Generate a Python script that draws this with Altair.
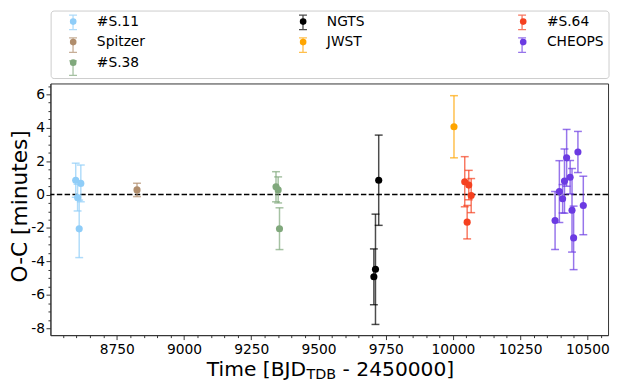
import altair as alt
import pandas as pd

FONT = "DejaVu Sans"

instruments = ["#S.11", "Spitzer", "#S.38", "NGTS", "JWST", "#S.64", "CHEOPS"]
inst_colors = ["#8fcdf8", "#b08d6c", "#80a87c", "#000000", "#ffa500", "#f5401f", "#6b3ae2"]

# order in which the 3-column legend places the entries
legend_order = ["#S.11", "Spitzer", "CHEOPS", "NGTS", "JWST", "#S.38", "#S.64"]

s11_t = [8597, 8604, 8610, 8616]
s11_oc = [0.86, -0.18, -2.05, 0.67]
s11_err = [1.02, 0.80, 1.72, 1.10]

spitzer_t = [8825]
spitzer_oc = [0.28]
spitzer_err = [0.40]

s38_t = [9342, 9350, 9355]
s38_oc = [0.47, 0.28, -2.04]
s38_err = [0.90, 0.78, 1.25]

ngts_t = [9706, 9712, 9724]
ngts_oc = [-4.92, -4.47, 0.86]
ngts_err = [1.67, 3.30, 2.70]

jwst_t = [10004]
jwst_oc = [4.06]
jwst_err = [1.86]

s64_t = [10044, 10053, 10059, 10068]
s64_oc = [0.77, -1.65, 0.57, -0.06]
s64_err = [1.50, 1.00, 0.88, 1.02]

cheops_t = [10380, 10396, 10408, 10415, 10423, 10436, 10443, 10449, 10465, 10485]
cheops_oc = [-1.55, 0.18, -0.25, 0.81, 2.20, 1.04, -0.94, -2.59, 2.55, -0.65]
cheops_err = [1.74, 1.85, 0.85, 1.92, 1.70, 1.00, 2.50, 1.90, 1.23, 1.75]

groups = [
    ("#S.11", s11_t, s11_oc, s11_err),
    ("Spitzer", spitzer_t, spitzer_oc, spitzer_err),
    ("#S.38", s38_t, s38_oc, s38_err),
    ("NGTS", ngts_t, ngts_oc, ngts_err),
    ("JWST", jwst_t, jwst_oc, jwst_err),
    ("#S.64", s64_t, s64_oc, s64_err),
    ("CHEOPS", cheops_t, cheops_oc, cheops_err),
]
rows = []
for name, ts, ocs, errs in groups:
    for t, oc, e in zip(ts, ocs, errs):
        rows.append({"inst": name, "inst2": name, "t": t, "oc": oc,
                     "lo": oc - e, "hi": oc + e})
df = pd.DataFrame(rows)

color_of = dict(zip(instruments, inst_colors))
xscale = alt.Scale(domain=[8503, 10577], nice=False, zero=False)
yscale = alt.Scale(domain=[-8.41, 6.65], nice=False, zero=False)
cscale = alt.Scale(domain=legend_order, range=[color_of[n] for n in legend_order])

x_minor = list(range(8550, 10551, 50))
y_minor = [v / 2 for v in range(-16, 14)]

xaxis = alt.Axis(
    values=x_minor,
    labelExpr="datum.value % 250 === 0 ? '' + datum.value : ''",
    tickSize={"condition": {"test": "datum.value % 250 !== 0", "value": 2.5}, "value": 4.5},
    labelFont=FONT, labelFontSize=14, labelColor="black", labelPadding=3,
    labelFlush=False, labelOverlap=False,
    tickColor="#333333", domainColor="#333333", tickWidth=1, domainWidth=1,
    grid=False,
)
yaxis = alt.Axis(
    values=y_minor,
    labelExpr="datum.value % 2 === 0 ? '' + datum.value : ''",
    tickSize={"condition": {"test": "datum.value % 2 !== 0", "value": 2.5}, "value": 4.5},
    labelFont=FONT, labelFontSize=14, labelColor="black", labelPadding=1.5,
    labelFlush=False, labelOverlap=False,
    tickColor="#333333", domainColor="#333333", tickWidth=1, domainWidth=1,
    grid=False,
    title="O-C [minutes]", titleFont=FONT, titleFontSize=22, titleFontWeight="normal",
    titleColor="black", titleAngle=270, titleX=-24, titleY=124,
    titleBaseline="alphabetic", titleAlign="center",
)


def X(field="t"):
    return alt.X(f"{field}:Q", scale=xscale, axis=xaxis, title=None)


def Y(field):
    return alt.Y(f"{field}:Q", scale=yscale, axis=yaxis, title="O-C [minutes]")


legend_pts = alt.Legend(
    title=None, orient="none", legendX=16.05, legendY=-69.7, columns=3,
    columnPadding=153, rowPadding=6.8, symbolType="circle", symbolSize=45,
    labelFont=FONT, labelFontSize=14, labelColor="black", values=legend_order,
    labelOffset=17, labelLimit=300,
)
bar_path = "M0,-1V1M-0.55,-1H0.55M-0.55,1H0.55"
legend_bar = alt.Legend(
    title=None, orient="none", legendX=14.9, legendY=-70, columns=3,
    columnPadding=153, rowPadding=3.2, symbolType=bar_path, symbolSize=213,
    symbolStrokeWidth=1.3, symbolOpacity=0.7, labelFont=FONT, labelFontSize=14,
    labelOpacity=0, labelOffset=14.6, labelLimit=300, values=legend_order,
)

base = alt.Chart(df)

box = alt.Chart(pd.DataFrame({"k": [0]})).mark_rect(
    fill="white", fillOpacity=0, stroke="#cccccc", strokeWidth=1, cornerRadius=3
).encode(x=alt.value(0.7), x2=alt.value(566), y=alt.value(-73.4), y2=alt.value(-5))

zero = alt.Chart(pd.DataFrame({"k": [0]})).mark_rule(
    color="black", strokeDash=[5.5, 2.4], strokeWidth=1.5
).encode(y=alt.datum(0, scale=yscale, axis=yaxis, title="O-C [minutes]"))

bars = base.mark_rule(strokeWidth=1.5, opacity=0.7).encode(
    x=X(), y=Y("lo"), y2="hi:Q",
    stroke=alt.Stroke("inst2:N", scale=cscale, legend=legend_bar),
)
caps_lo = base.mark_tick(orient="horizontal", size=8, thickness=1.5, opacity=0.7).encode(
    x=X(), y=Y("lo"), color=alt.Color("inst:N", scale=cscale, legend=None)
)
caps_hi = base.mark_tick(orient="horizontal", size=8, thickness=1.5, opacity=0.7).encode(
    x=X(), y=Y("hi"), color=alt.Color("inst:N", scale=cscale, legend=None)
)
points = base.mark_circle(size=52, opacity=1).encode(
    x=X(), y=Y("oc"),
    fill=alt.Fill("inst:N", scale=cscale, legend=legend_pts),
)

one = pd.DataFrame({"k": [0]})
t1 = alt.Chart(one).mark_text(
    text="Time [BJD", font=FONT, fontSize=20.5, align="right", baseline="alphabetic", color="black"
).encode(x=alt.value(259), y=alt.value(296.3))
t2 = alt.Chart(one).mark_text(
    text="TDB", font=FONT, fontSize=14.5, align="left", baseline="alphabetic", color="black"
).encode(x=alt.value(259.5), y=alt.value(299.3))
t3 = alt.Chart(one).mark_text(
    text="- 2450000]", font=FONT, fontSize=20.5, align="left", baseline="alphabetic", color="black"
).encode(x=alt.value(296), y=alt.value(296.3))

chart = alt.layer(box, zero, bars, caps_lo, caps_hi, points, t1, t2, t3).properties(
    width=565, height=255,
    padding={"left": 43, "top": 74, "right": 3, "bottom": 44},
    autosize=alt.AutoSizeParams(type="none"),
).resolve_scale(fill="independent", stroke="independent", color="independent"
).configure_view(stroke="#333333", strokeWidth=1)

chart.save("out.html", embed_options={"renderer": "svg", "actions": False})
